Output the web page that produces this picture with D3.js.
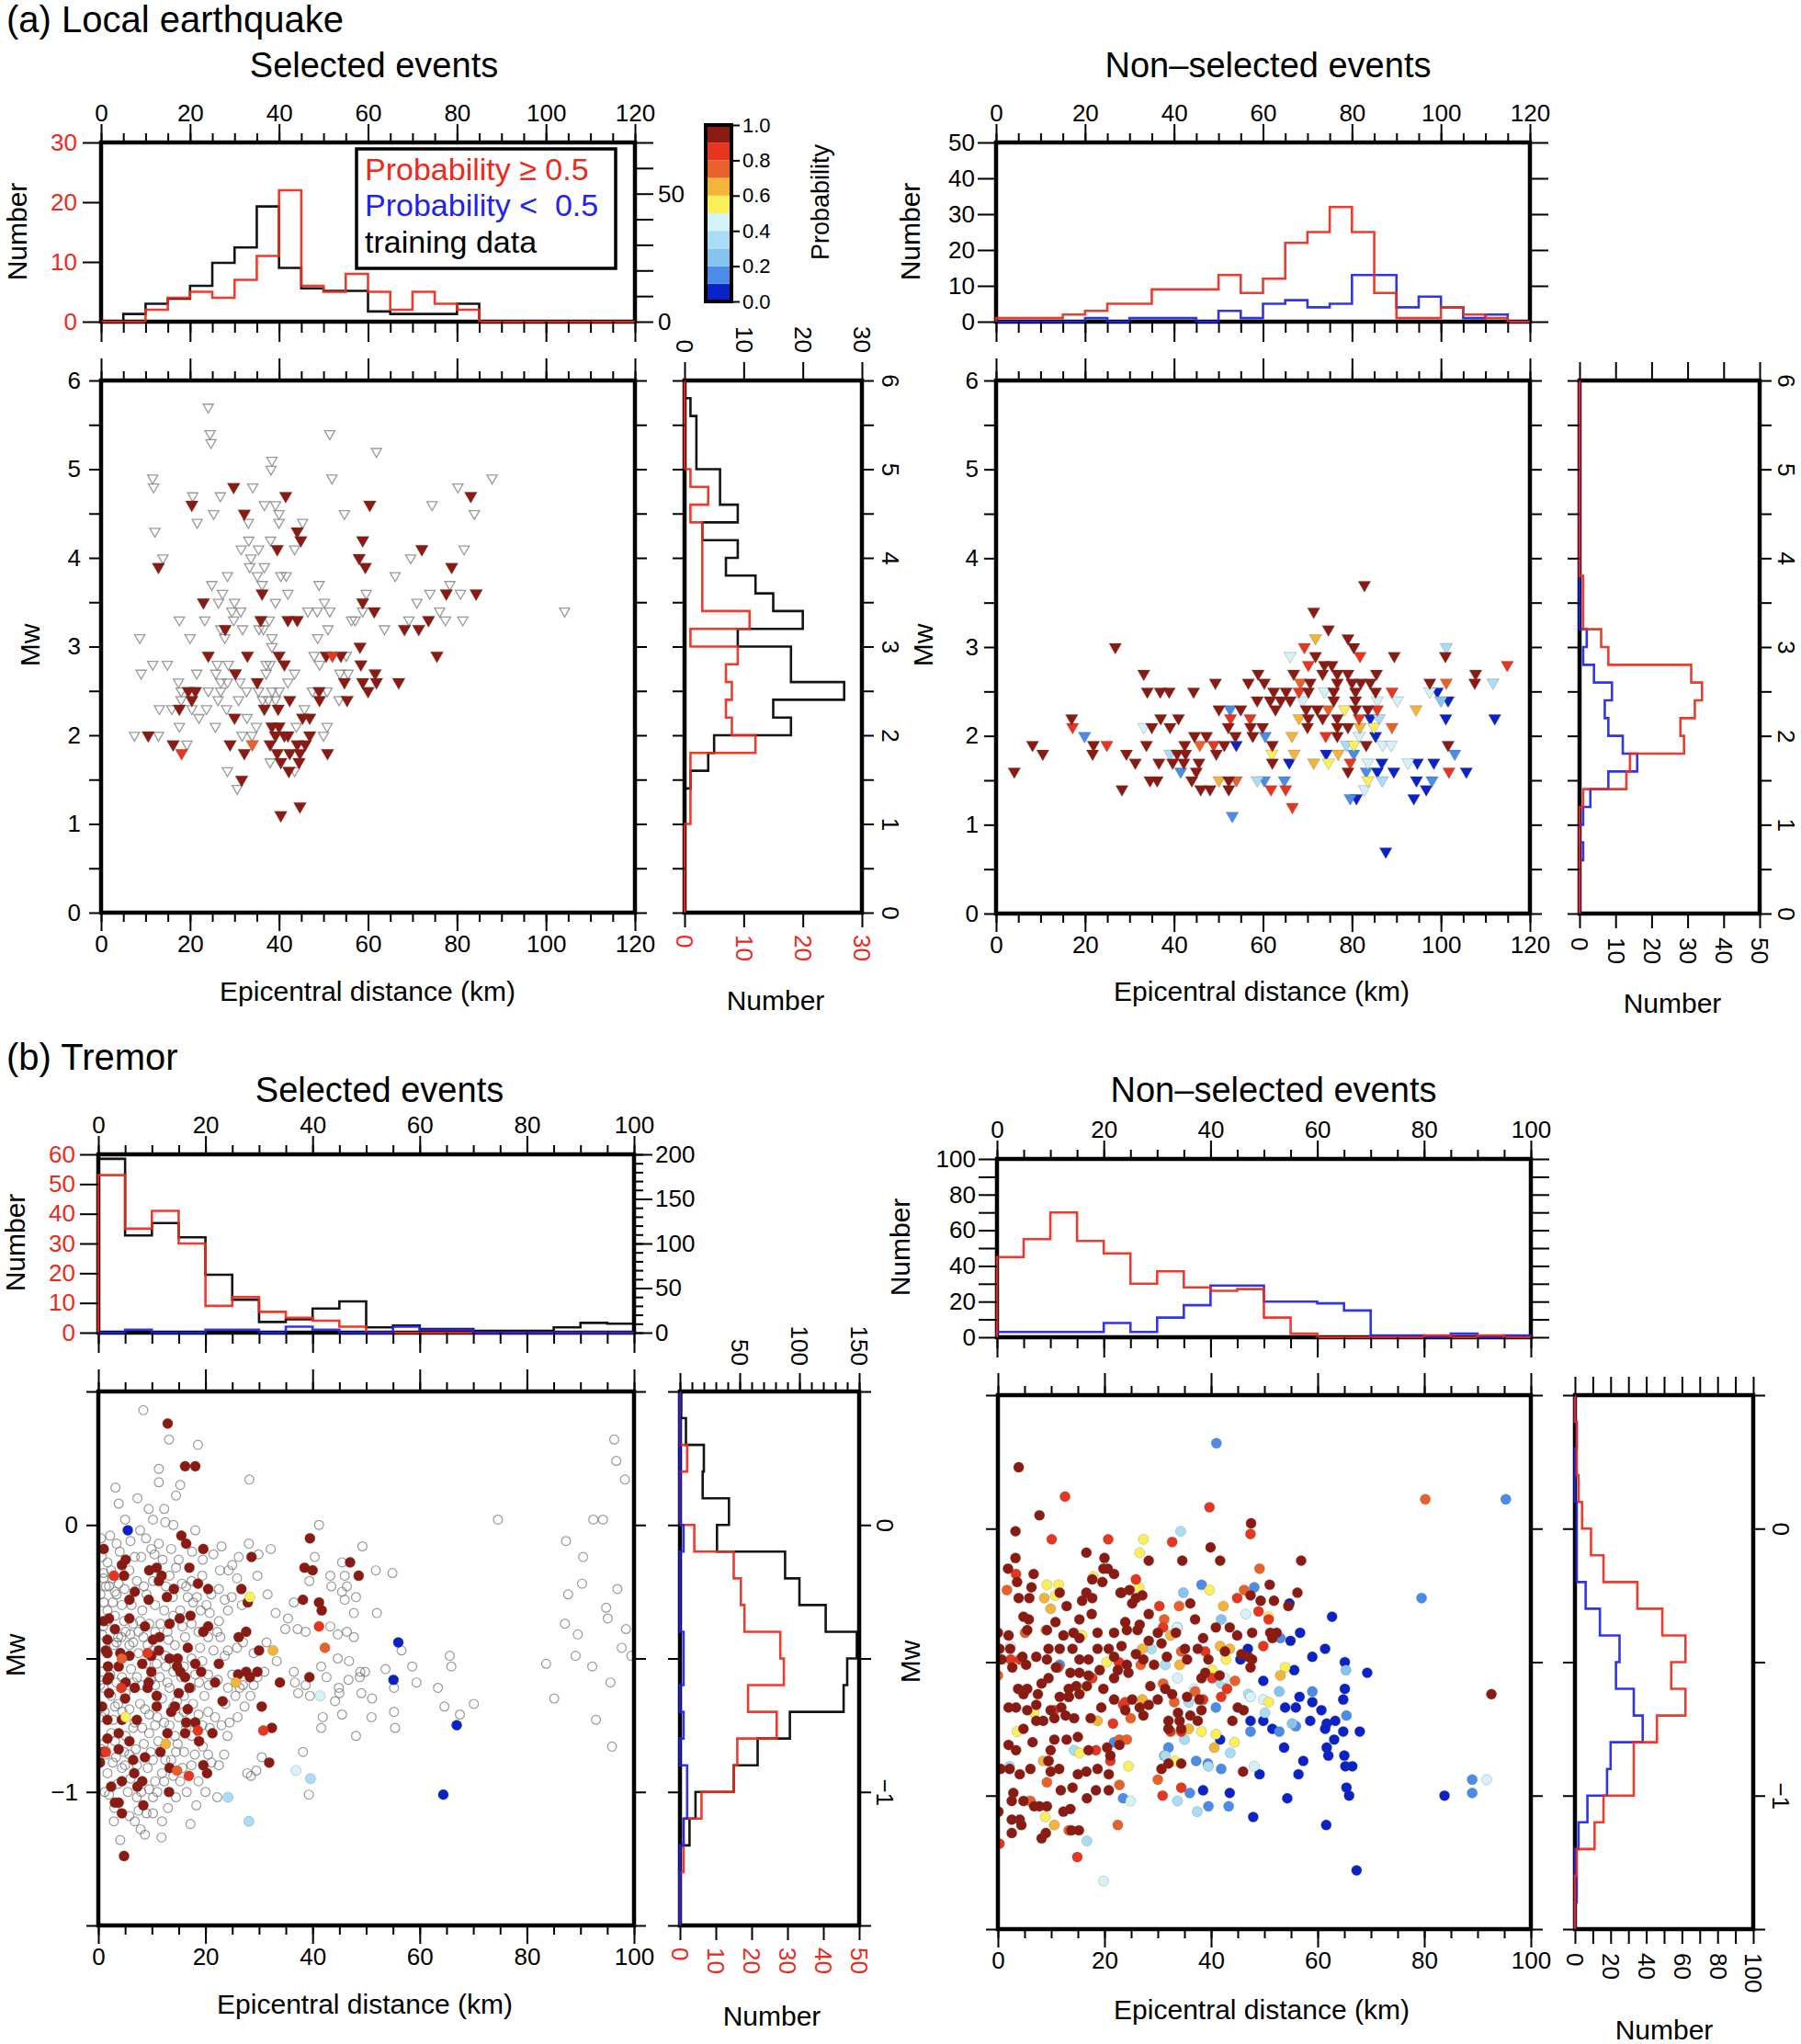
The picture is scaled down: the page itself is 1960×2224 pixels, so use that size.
<!DOCTYPE html>
<html><head><meta charset="utf-8">
<script src="https://cdn.jsdelivr.net/npm/d3@7"></script>
<style>
body{margin:0;background:#fff}
svg{display:block}
</style></head><body>
<svg id="c" width="1960" height="2224"></svg>
<script>
// ---------------- DATA ----------------
const distTicksA=[0,20,40,60,80,100,120];
const distTicksB=[0,20,40,60,80,100];
const mwLabelsA=[0,1,2,3,4,5,6];
const mwLabelsB=[-1,0];
const cbTicks=[0,0.2,0.4,0.6,0.8,1.0];
const probColors=['#0a22c6','#4a8ce8','#86c4f0','#aadcf6','#d4f2f8','#fbf05a','#f2b43a','#e8602a','#e6361f','#8b1a12'];

// (a) selected: 5 km bins 0-120, Mw 0.2 bins 0-6
const aSelTopRed=[0,0,2,4,5,4,7,11,22,6,5,8,5,2,5,3,2,0,0,0,0,0,0,0];
const aSelTopBlack=[0,3,7,9,14,23,29,45,21,13,12,12,4,3,3,3,7,0,0,0,0,0,0,0];
const aSelSideRed=[0,0,0,0,0,1,1,1,1,12,8,7,8,7,9,1,11,3,3,3,3,3,1,4,1,0,0,0,0,0];
const aSelSideBlack=[0,0,0,0,0,0,0,1,4,5,18,15,27,18,18,9,20,15,12,7,9,3,9,6,6,2,2,2,1,0];
// (a) non-selected
const aNonTopRed=[1,1,1,2,3,5,5,9,9,9,13,8,12,22,25,32,25,8,1,1,4,2,1,0];
const aNonTopBlue=[0,0,0,0,1,0,1,1,1,0,3,1,5,6,4,5,13,13,4,7,4,1,2,0];
const aNonSideRed=[0,0,0,0,0,0,1,13,14,29,28,32,34,31,8,6,1,1,1,0,0,0,0,0,0,0,0,0,0,0];
const aNonSideBlue=[0,0,0,1,0,1,3,8,16,12,8,7,9,4,1,2,0,0,0,0,0,0,0,0,0,0,0,0,0,0];
// (b) selected: 5 km bins 0-100, Mw 0.1 bins -1.5..0.5
const bSelTopRed=[53,35,41,30,9,12,7,5,4,2,0,0,0,0,0,0,0,0,0,0];
const bSelTopBlack=[195,109,123,107,65,37,12,15,27,35,6,8,4,4,2,2,2,6,11,10];
const bSelTopBlue=[0,1,0,0,1,1,0,2,1,0,0,2,1,1,0,0,0,0,0,0];
const bSelSideRed=[0,0,1,1,6,15,16,27,19,29,28,18,17,15,4,0,0,2,0,0];
const bSelSideBlack=[0,0,0,8,13,45,65,92,137,140,148,122,100,88,31,41,19,20,5,1];
const bSelSideBlue=[0,0,0,1,2,2,0,1,0,1,1,0,0,0,1,0,0,0,0,0];
// (b) non-selected
const bNonTopRed=[45,55,70,54,47,30,37,28,26,27,11,2,0,0,0,0,1,0,1,0];
const bNonTopBlue=[3,3,3,3,8,3,11,18,29,29,20,20,19,15,1,1,0,2,0,1];
const bNonSideRed=[0,0,1,11,16,33,33,46,62,54,62,49,35,16,9,4,2,1,1,0];
const bNonSideBlue=[0,1,0,2,7,18,20,38,33,23,25,14,6,1,1,1,0,0,1,0];

// scatter: [distance km, Mw] / [distance km, Mw, probability]
const aSelTraining=[[24.1,5.7],[24.5,5.4],[24.7,5.3],[51.4,5.4],[61.9,5.2],[38.4,5.1],[38.2,5.0],[11.6,4.9],[11.8,4.8],[51.9,4.9],[87.9,4.9],[34.1,4.8],[80.2,4.8],[26.8,4.7],[20.6,4.7],[36.7,4.6],[39.2,4.6],[74.4,4.6],[25.3,4.5],[40.0,4.5],[54.7,4.5],[83.9,4.5],[21.6,4.4],[33.1,4.4],[45.3,4.4],[40.0,4.4],[12.1,4.3],[33.2,4.2],[38.1,4.2],[31.5,4.1],[35.4,4.1],[43.5,4.1],[81.6,4.1],[13.9,4.0],[33.7,4.0],[69.6,4.0],[33.4,3.9],[36.7,3.9],[28.4,3.8],[35.1,3.8],[40.4,3.8],[41.6,3.8],[66.1,3.8],[49.0,3.7],[24.9,3.7],[36.2,3.7],[78.4,3.7],[27.3,3.6],[42.0,3.6],[59.6,3.6],[73.9,3.6],[80.8,3.6],[39.2,3.5],[26.4,3.5],[30.0,3.5],[50.2,3.5],[71.0,3.5],[29.4,3.4],[31.4,3.4],[46.5,3.4],[48.6,3.4],[51.4,3.4],[58.8,3.4],[76.1,3.4],[104.2,3.4],[17.6,3.3],[23.3,3.3],[29.8,3.3],[37.8,3.3],[56.3,3.3],[57.1,3.3],[69.2,3.3],[77.4,3.3],[81.3,3.3],[26.9,3.2],[31.8,3.2],[35.5,3.2],[36.5,3.2],[51.0,3.2],[63.7,3.2],[8.7,3.1],[20.0,3.1],[27.8,3.1],[38.4,3.1],[48.7,3.1],[38.4,3.0],[11.6,2.8],[14.9,2.8],[26.1,2.8],[28.6,2.8],[37.1,2.8],[38.0,2.8],[47.9,2.9],[49.1,2.8],[55.1,2.9],[9.0,2.7],[21.5,2.7],[25.8,2.7],[30.2,2.7],[37.1,2.7],[43.5,2.7],[53.7,2.7],[55.5,2.7],[17.4,2.6],[26.9,2.6],[28.4,2.6],[31.2,2.6],[42.0,2.6],[18.0,2.5],[24.1,2.5],[26.9,2.5],[32.7,2.5],[35.4,2.5],[38.4,2.5],[40.0,2.5],[47.5,2.5],[50.8,2.5],[18.0,2.4],[26.3,2.4],[30.9,2.4],[36.3,2.4],[37.6,2.4],[39.2,2.4],[53.5,2.4],[13.1,2.3],[15.9,2.3],[20.4,2.3],[23.7,2.3],[28.2,2.3],[45.7,2.3],[22.0,2.2],[32.8,2.2],[17.6,2.1],[25.7,2.1],[34.9,2.1],[43.9,2.1],[50.8,2.1],[7.5,2.0],[12.9,2.0],[31.7,2.0],[33.9,2.0],[50.0,2.0],[19.3,1.9],[38.0,1.7],[43.5,1.6],[28.4,1.6],[30.6,1.4]];
const aSelEvents=[[29.8,4.8,.95],[41.5,4.7,.95],[20.4,4.6,.95],[32.2,4.5,.95],[60.4,4.6,.95],[83.1,4.7,.95],[44.1,4.3,.95],[44.9,4.2,.95],[39.6,4.1,.95],[58.8,4.2,.95],[72.1,4.1,.95],[58.0,4.0,.95],[59.4,3.9,.95],[78.8,3.9,.95],[12.9,3.9,.95],[36.2,3.6,.95],[23.0,3.5,.95],[77.6,3.6,.95],[84.3,3.6,.95],[58.8,3.5,.95],[61.4,3.4,.95],[35.9,3.3,.95],[42.0,3.3,.95],[44.1,3.3,.95],[27.9,3.2,.95],[68.2,3.2,.95],[71.4,3.2,.95],[73.6,3.3,.95],[24.1,2.9,.95],[32.9,2.9,.95],[40.0,2.9,.95],[41.2,2.8,.95],[50.6,2.9,.95],[53.9,2.9,.95],[58.2,3.0,.95],[58.4,2.8,.95],[75.5,2.9,.95],[30.2,2.7,.95],[35.1,2.6,.95],[54.7,2.6,.95],[58.8,2.6,.95],[61.6,2.7,.95],[61.9,2.6,.95],[66.9,2.6,.95],[60.0,2.5,.95],[19.6,2.5,.95],[21.2,2.5,.95],[20.4,2.4,.95],[42.4,2.4,.95],[49.0,2.5,.95],[49.1,2.4,.95],[55.3,2.4,.95],[17.6,2.3,.95],[36.7,2.3,.95],[39.8,2.3,.95],[30.0,2.2,.95],[45.3,2.2,.95],[46.9,2.2,.95],[38.4,2.1,.95],[40.0,2.1,.95],[39.2,2.0,.95],[41.2,2.0,.95],[42.0,2.0,.95],[46.9,2.0,.95],[10.6,2.0,.95],[16.2,1.9,.95],[29.0,1.9,.95],[38.0,1.9,.95],[44.1,1.9,.95],[45.9,1.9,.95],[32.2,1.8,.95],[39.6,1.8,.95],[42.4,1.8,.95],[44.7,1.8,.95],[50.9,1.8,.95],[40.4,1.7,.95],[44.5,1.7,.95],[42.2,1.6,.95],[31.6,1.5,.95],[44.7,1.2,.95],[40.4,1.1,.95],[18.1,1.8,.85],[34.0,1.9,.75],[52.0,2.9,.85]];
const aNonEvents=[[82.8,3.7,.95],[71.4,3.4,.95],[74.7,3.2,.95],[71.8,3.1,.65],[79.1,3.1,.95],[80.4,3.0,.95],[69.3,3.0,.85],[26.8,3.0,.95],[101.2,3.0,.35],[66.1,2.9,.45],[71.8,2.9,.95],[81.8,2.9,.85],[89.5,2.9,.95],[101.0,2.9,.95],[114.9,2.8,.85],[70.2,2.8,.85],[73.8,2.8,.95],[75.5,2.8,.95],[33.2,2.7,.95],[58.9,2.7,.95],[66.9,2.7,.95],[73.4,2.7,.95],[76.7,2.7,.95],[79.1,2.7,.95],[85.5,2.7,.95],[107.8,2.7,.95],[49.3,2.6,.95],[56.7,2.6,.95],[60.3,2.6,.95],[68.4,2.6,.75],[70.6,2.6,.95],[76.7,2.6,.95],[80.0,2.6,.95],[82.0,2.6,.95],[84.1,2.6,.95],[97.5,2.6,.95],[101.2,2.6,.75],[107.6,2.6,.95],[111.7,2.6,.35],[34.0,2.5,.95],[36.9,2.5,.95],[38.9,2.5,.95],[44.4,2.5,.95],[62.4,2.5,.95],[65.2,2.5,.95],[68.1,2.5,.85],[70.2,2.5,.95],[73.8,2.5,.45],[75.9,2.5,.95],[80.8,2.5,.95],[85.3,2.5,.95],[89.0,2.5,.85],[97.5,2.5,.45],[99.2,2.5,.05],[58.7,2.4,.95],[61.6,2.4,.95],[64.0,2.4,.95],[66.1,2.4,.95],[68.9,2.4,.45],[75.9,2.4,.95],[80.8,2.4,.95],[85.7,2.4,.45],[90.2,2.4,.45],[100.0,2.4,.25],[101.6,2.4,.05],[50.1,2.3,.95],[52.6,2.3,.15],[55.0,2.3,.95],[62.8,2.3,.95],[69.7,2.3,.95],[72.2,2.3,.95],[74.7,2.3,.75],[78.3,2.3,.55],[80.8,2.3,.95],[83.6,2.3,.95],[85.7,2.3,.85],[94.4,2.3,.65],[17.0,2.2,.95],[37.0,2.2,.95],[41.0,2.2,.95],[52.7,2.2,.85],[57.1,2.2,.85],[68.1,2.2,.65],[70.2,2.2,.95],[73.4,2.2,.95],[76.7,2.2,.95],[81.6,2.2,.85],[84.1,2.2,.05],[86.1,2.2,.35],[101.1,2.2,.05],[112.1,2.2,.05],[17.2,2.1,.85],[33.2,2.1,.45],[35.0,2.1,.95],[39.1,2.1,.95],[52.2,2.1,.95],[57.2,2.1,.95],[59.9,2.1,.95],[70.0,2.1,.95],[76.7,2.1,.95],[79.1,2.1,.95],[81.8,2.1,.65],[84.9,2.1,.55],[89.0,2.1,.75],[19.9,2.0,.15],[44.6,2.0,.95],[47.3,2.0,.95],[53.8,2.0,.95],[57.7,2.0,.95],[60.5,2.0,.15],[66.5,2.0,.65],[74.1,2.0,.85],[76.7,2.0,.95],[81.6,2.0,.45],[85.3,2.0,.05],[8.2,1.9,.95],[21.9,1.9,.95],[24.9,1.9,.85],[33.8,1.9,.95],[42.4,1.9,.95],[45.8,1.9,.75],[48.9,1.9,.85],[51.3,1.9,.95],[54.0,1.9,.05],[62.1,1.9,.95],[78.7,1.9,.35],[80.4,1.9,.55],[83.2,1.9,.95],[86.9,1.9,.45],[88.8,1.9,.45],[101.6,1.9,.95],[10.5,1.8,.95],[21.7,1.8,.95],[29.3,1.8,.95],[39.1,1.8,.35],[40.7,1.8,.95],[42.6,1.8,.95],[49.5,1.8,.95],[62.0,1.8,.55],[67.0,1.8,.65],[74.2,1.8,.05],[76.9,1.8,.65],[80.4,1.8,.15],[103.1,1.8,.15],[31.3,1.7,.95],[36.6,1.7,.95],[39.7,1.7,.95],[42.2,1.7,.95],[45.6,1.7,.95],[62.1,1.7,.95],[65.9,1.7,.05],[71.4,1.7,.65],[74.7,1.7,.55],[79.6,1.7,.85],[83.6,1.7,.45],[86.7,1.7,.05],[92.6,1.7,.45],[94.7,1.7,.05],[98.4,1.7,.05],[4.1,1.6,.95],[41.5,1.6,.15],[45.0,1.6,.95],[79.1,1.6,.95],[83.2,1.6,.15],[85.7,1.6,.05],[89.4,1.6,.05],[101.8,1.6,.85],[105.7,1.6,.05],[34.6,1.5,.95],[36.2,1.5,.95],[44.0,1.5,.95],[50.1,1.5,.65],[52.3,1.5,.95],[54.0,1.5,.75],[58.7,1.5,.35],[60.3,1.5,.15],[64.8,1.5,.15],[83.6,1.5,.55],[86.8,1.5,.35],[94.5,1.5,.05],[98.0,1.5,.15],[28.3,1.4,.95],[46.0,1.4,.95],[48.1,1.4,.95],[52.3,1.4,.95],[61.8,1.4,.85],[65.1,1.4,.85],[82.8,1.4,.45],[96.7,1.4,.05],[79.6,1.3,.15],[81.0,1.3,.05],[93.9,1.3,.05],[66.6,1.2,.85],[53.1,1.1,.15],[87.6,0.7,.05]];
const bSelTraining=[[8.4,0.43],[13.2,0.32],[18.6,0.30],[11.3,0.21],[11.3,0.16],[15.3,0.15],[14.5,0.11],[3.2,0.14],[3.8,0.08],[7.3,0.10],[9.4,0.06],[12.3,0.06],[28.2,0.17],[5.0,0.02],[10.2,0.02],[12.5,0.01],[14.0,0.0],[18.1,-0.02],[7.8,-0.02],[8.9,-0.05],[3.4,-0.07],[11.3,-0.07],[13.6,-0.09],[9.9,-0.09],[21.5,-0.11],[26.2,-0.12],[28.1,-0.07],[32.2,-0.09],[29.9,-0.11],[41.2,0.0],[49.3,-0.08],[40.4,-0.12],[14.5,-0.16],[5.8,-0.17],[22.7,-0.17],[24.3,-0.17],[25.9,-0.2],[29.7,-0.19],[22.5,-0.24],[24.9,-0.27],[31.6,-0.26],[36.5,-0.29],[39.4,-0.21],[43.3,-0.19],[45.5,-0.14],[46.0,-0.19],[51.8,-0.17],[54.9,-0.18],[43.5,-0.23],[45.5,-0.25],[46.4,-0.23],[48.1,-0.27],[46.0,-0.28],[47.7,-0.33],[52.0,-0.33],[33.1,-0.33],[35.4,-0.35],[37.2,-0.39],[34.9,-0.39],[38.7,-0.4],[43.3,-0.38],[44.7,-0.41],[46.4,-0.4],[47.7,-0.42],[31.4,-0.44],[33.3,-0.51],[44.7,-0.5],[46.8,-0.51],[48.9,-0.55],[49.8,-0.55],[48.8,-0.57],[46.7,-0.58],[42.6,-0.57],[41.6,-0.53],[36.5,-0.55],[36.7,-0.59],[38.7,-0.6],[37.3,-0.63],[39.5,-0.64],[44.9,-0.61],[45.0,-0.63],[49.1,-0.63],[51.1,-0.65],[53.6,-0.54],[56.6,-0.47],[55.2,-0.61],[58.6,-0.53],[59.4,-0.59],[63.4,-0.61],[65.6,-0.49],[65.9,-0.53],[64.6,-0.68],[67.5,-0.71],[70.1,-0.67],[55.2,-0.7],[55.4,-0.76],[51.0,-0.72],[45.5,-0.71],[44.2,-0.66],[41.9,-0.72],[41.6,-0.76],[48.1,-0.79],[38.2,-0.85],[39.3,-1.01],[30.5,-0.87],[28.5,-0.94],[29.5,-0.92],[27.8,-0.93],[22.2,-1.02],[18.3,-1.05],[17.2,-1.12],[11.9,-1.11],[11.8,-1.17],[8.7,-1.16],[7.9,-1.14],[6.8,-1.11],[4.1,-1.18],[2.9,-1.11],[14.5,-1.02],[10.2,-1.02],[12.3,-0.96],[9.5,-0.99],[14.5,-0.85],[15.3,-0.96],[13.6,-0.88],[20.5,-0.86],[21.1,-0.89],[22.5,-0.9],[24.1,-0.79],[24.5,-0.74],[23.7,-0.67],[24.2,-0.61],[25.6,-0.64],[26.4,-0.61],[27.3,-0.68],[29.0,-0.6],[29.7,-0.57],[28.4,-0.64],[22.3,-0.58],[20.5,-0.56],[21.5,-0.47],[22.8,-0.42],[24.2,-0.47],[25.9,-0.46],[22.5,-0.36],[20.8,-0.33],[24.2,-0.32],[17.7,-0.29],[19.1,-0.32],[16.7,-0.27],[15.3,-0.32],[12.3,-0.32],[10.6,-0.3],[8.2,-0.32],[4.4,-0.3],[3.1,-0.25],[2.7,-0.29],[1.0,-0.29],[1.4,-0.23],[3.8,-0.22],[1.0,-0.2],[1.7,-0.14],[0.7,-0.12],[6.8,-0.12],[7.2,-0.21],[8.5,-0.23],[12.6,-0.23],[13.3,-0.19],[16.4,-0.23],[17.4,-0.21],[19.4,-0.19],[21.1,-0.26],[12.9,-0.4],[7.5,-0.4],[5.1,-0.4],[0.7,-0.41],[3.4,-0.44],[6.5,-0.44],[9.2,-0.45],[14.3,-0.45],[17.4,-0.5],[12.6,-0.53],[7.2,-0.57],[0.7,-0.55],[3.4,-0.59],[12.9,-0.59],[18.8,-0.59],[19.8,-0.64],[11.9,-0.65],[7.8,-0.67],[3.1,-0.68],[0.7,-0.72],[5.8,-0.69],[9.5,-0.71],[12.3,-0.74],[15.0,-0.72],[20.5,-0.7],[20.8,-0.76],[17.4,-0.79],[14.3,-0.79],[9.5,-0.78],[6.5,-0.76],[2.4,-0.78],[1.0,-0.82],[4.8,-0.85],[8.5,-0.82],[11.2,-0.81],[10.2,-0.88],[16.0,-0.85],[17.4,-0.9],[11.9,-0.93],[4.4,-0.91],[1.7,-0.93],[7.2,-1.02],[5.5,-1.0],[2.0,-1.01],[74.6,0.02],[96.3,0.32],[96.7,0.24],[98.3,0.17],[92.4,0.02],[94.2,0.02],[87.3,-0.06],[90.5,-0.12],[87.7,-0.26],[90.3,-0.22],[96.9,-0.24],[94.8,-0.31],[95.1,-0.35],[87.1,-0.37],[98.5,-0.39],[89.5,-0.41],[97.7,-0.46],[89.1,-0.49],[83.6,-0.52],[92.2,-0.53],[99.5,-0.49],[95.6,-0.59],[85.1,-0.65],[92.9,-0.73],[95.9,-0.83],[1.0,-0.18],[2.4,-0.17],[2.0,-0.23],[3.4,-0.26],[1.7,-0.32],[3.1,-0.34],[4.8,-0.36],[6.5,-0.37],[7.8,-0.36],[9.5,-0.37],[10.6,-0.4],[11.6,-0.37],[14.0,-0.34],[15.7,-0.38],[17.4,-0.37],[18.7,-0.4],[20.5,-0.42],[22.2,-0.4],[3.7,-0.42],[5.8,-0.45],[7.5,-0.48],[8.9,-0.52],[10.9,-0.52],[12.6,-0.49],[14.0,-0.55],[16.0,-0.53],[18.1,-0.56],[19.4,-0.51],[1.0,-0.61],[2.4,-0.64],[3.7,-0.67],[5.1,-0.63],[6.5,-0.59],[8.2,-0.6],[10.6,-0.6],[13.3,-0.61],[14.7,-0.66],[16.0,-0.64],[17.7,-0.67],[18.7,-0.71],[19.4,-0.75],[16.4,-0.76],[13.3,-0.75],[10.6,-0.75],[8.2,-0.76],[5.1,-0.79],[3.1,-0.81],[1.4,-0.86],[2.7,-0.89],[5.8,-0.86],[7.2,-0.9],[9.2,-0.91],[10.6,-0.96],[14.0,-0.94],[15.7,-0.91],[18.7,-0.96],[7.5,-1.07],[5.8,-1.09],[10.2,-1.08],[1.7,-0.36],
[0.5,-0.05],[2.2,-0.04],[4.0,-0.1],[6.0,-0.06],[8.0,-0.12],[10.5,-0.11],[12.0,-0.13],[15.0,-0.13],[17.5,-0.1],[19.5,-0.13],[23.0,-0.08],[25.0,-0.15],[0.4,-0.26],[2.6,-0.2],[4.9,-0.24],[6.2,-0.3],[9.0,-0.26],[10.2,-0.21],[13.9,-0.27],[15.6,-0.22],[18.4,-0.27],[20.2,-0.3],[23.6,-0.28],[26.8,-0.3],[0.9,-0.38],[2.9,-0.45],[4.3,-0.42],[6.0,-0.41],[8.4,-0.42],[10.1,-0.47],[13.1,-0.43],[16.2,-0.42],[19.0,-0.46],[23.6,-0.49],[27.0,-0.44],[29.0,-0.48],[0.3,-0.6],[2.2,-0.56],[4.4,-0.57],[6.1,-0.54],[9.8,-0.58],[11.5,-0.57],[15.5,-0.57],[17.3,-0.61],[20.6,-0.6],[25.0,-0.56],[27.0,-0.6],[31.0,-0.55],[1.2,-0.7],[2.8,-0.73],[4.5,-0.7],[6.8,-0.74],[8.7,-0.69],[11.0,-0.72],[14.0,-0.68],[16.0,-0.7],[21.8,-0.72],[23.0,-0.75],[26.0,-0.72],[0.6,-0.84],[3.3,-0.87],[5.0,-0.9],[7.0,-0.84],[9.8,-0.85],[12.5,-0.88],[14.8,-0.82],[18.0,-0.86],[19.5,-0.83],[23.5,-0.86],[1.2,-1.0],[3.6,-0.97],[6.0,-0.95],[8.0,-1.0],[11.0,-1.0],[13.0,-1.06],[16.5,-1.0],[20.0,-1.0],[9.0,-1.08],[3.0,-1.06]];
const bSelEvents=[[12.95,0.38,.95],[16.2,0.22,.95],[18.1,0.22,.95],[1.0,-0.09,.95],[15.5,-0.04,.95],[16.4,-0.07,.95],[19.6,-0.09,.95],[39.5,-0.05,.95],[28.6,-0.12,.95],[47.0,-0.14,.95],[48.6,-0.19,.95],[38.5,-0.16,.95],[40.0,-0.17,.95],[5.1,-0.13,.95],[4.4,-0.15,.95],[4.8,-0.19,.95],[9.5,-0.17,.95],[10.9,-0.16,.95],[11.8,-0.19,.95],[11.3,-0.21,.95],[17.0,-0.16,.95],[18.6,-0.22,.95],[20.5,-0.24,.95],[26.7,-0.24,.95],[27.9,-0.29,.95],[38.2,-0.28,.95],[41.2,-0.29,.95],[41.7,-0.32,.95],[6.8,-0.25,.95],[5.8,-0.28,.95],[9.4,-0.28,.95],[12.8,-0.27,.95],[14.1,-0.24,.95],[1.0,-0.36,.95],[2.0,-0.35,.95],[5.8,-0.35,.95],[13.3,-0.37,.95],[15.2,-0.35,.95],[17.2,-0.34,.95],[20.5,-0.38,.95],[3.1,-0.39,.95],[8.7,-0.38,.95],[10.2,-0.43,.95],[11.4,-0.42,.95],[1.7,-0.43,.95],[19.6,-0.4,.95],[26.2,-0.42,.95],[27.6,-0.4,.95],[30.0,-0.47,.95],[4.1,-0.48,.95],[1.7,-0.48,.95],[11.3,-0.47,.95],[9.9,-0.49,.95],[13.3,-0.5,.95],[14.8,-0.5,.95],[16.7,-0.46,.95],[5.8,-0.49,.95],[8.2,-0.52,.95],[1.8,-0.53,.95],[3.8,-0.53,.95],[14.7,-0.53,.95],[18.1,-0.52,.95],[22.5,-0.52,.95],[15.3,-0.55,.95],[19.2,-0.55,.95],[16.2,-0.57,.95],[21.8,-0.59,.95],[2.0,-0.57,.95],[5.1,-0.59,.95],[9.9,-0.55,.95],[9.4,-0.59,.95],[26.1,-0.56,.95],[27.6,-0.55,.95],[28.3,-0.57,.95],[29.7,-0.55,.95],[33.9,-0.59,.95],[39.4,-0.57,.95],[17.0,-0.61,.95],[15.0,-0.63,.95],[6.8,-0.61,.95],[2.0,-0.63,.95],[5.0,-0.65,.95],[9.2,-0.61,.95],[10.9,-0.64,.95],[23.2,-0.66,.95],[16.7,-0.69,.95],[14.3,-0.68,.95],[10.9,-0.68,.95],[30.5,-0.68,.95],[1.7,-0.73,.95],[4.4,-0.73,.95],[7.2,-0.73,.95],[13.6,-0.7,.95],[16.4,-0.74,.95],[18.1,-0.74,.95],[3.8,-0.78,.95],[12.9,-0.78,.95],[16.2,-0.78,.95],[21.3,-0.78,.95],[32.4,-0.76,.95],[18.8,-0.81,.95],[5.8,-0.81,.95],[1.7,-0.8,.95],[11.6,-0.85,.95],[3.8,-0.84,.95],[8.7,-0.87,.95],[0.3,-0.89,.95],[6.5,-0.88,.95],[13.3,-0.91,.95],[19.6,-0.9,.95],[20.3,-0.93,.95],[31.9,-0.89,.95],[2.4,-0.98,.95],[4.4,-0.96,.95],[7.3,-0.98,.95],[8.2,-0.96,.95],[6.7,-0.93,.95],[13.2,-1.0,.95],[3.1,-1.04,.95],[4.4,-1.08,.95],[3.8,-1.04,.95],[8.4,-1.05,.95],[4.8,-1.24,.95],[1.4,-0.47,.95],[1.7,-0.58,.95],[0.7,-0.68,.95],[1.0,-0.85,.95],[5.5,-0.02,.05],[2.9,-0.19,.85],[41.2,-0.38,.85],[42.3,-0.46,.75],[28.3,-0.27,.55],[32.6,-0.47,.65],[25.7,-0.59,.65],[4.4,-0.5,.75],[4.3,-0.61,.85],[5.1,-0.72,.55],[12.6,-0.82,.65],[1.4,-0.85,.85],[18.6,-0.77,.85],[30.8,-0.77,.85],[14.7,-0.92,.75],[16.9,-0.94,.85],[41.4,-0.64,.45],[36.9,-0.92,.45],[39.6,-0.95,.35],[24.2,-1.02,.35],[28.1,-1.11,.35],[56.0,-0.44,.05],[55.1,-0.58,.05],[66.9,-0.75,.05],[64.4,-1.01,.05],[9.2,-0.48,.85]];
const bNonEvents=[[3.9,0.23,.95],[7.8,0.05,.95],[3.3,-0.01,.95],[3.3,-0.11,.95],[1.9,-0.15,.95],[3.6,-0.2,.95],[6.7,-0.17,.95],[6.3,-0.22,.95],[3.9,-0.26,.95],[5.9,-0.26,.95],[4.8,-0.33,.95],[5.8,-0.34,.95],[5.5,-0.38,.95],[2.0,-0.4,.95],[0.0,-0.39,.95],[0.3,-0.45,.95],[2.3,-0.45,.95],[4.6,-0.48,.95],[7.2,-0.48,.95],[5.3,-0.51,.95],[2.7,-0.52,.95],[0.7,-0.49,.95],[3.8,-0.6,.95],[5.5,-0.6,.95],[8.2,-0.58,.95],[9.5,-0.56,.95],[7.5,-0.62,.95],[4.8,-0.62,.95],[2.0,-0.67,.95],[3.4,-0.67,.95],[5.5,-0.68,.95],[7.2,-0.66,.95],[9.9,-0.68,.95],[8.5,-0.72,.95],[7.2,-0.72,.95],[4.8,-0.75,.95],[2.0,-0.81,.95],[3.4,-0.83,.95],[6.5,-0.8,.95],[9.9,-0.83,.95],[0.5,-0.9,.95],[2.2,-0.9,.95],[4.1,-0.92,.95],[6.1,-0.9,.95],[2.9,-0.99,.95],[2.6,-1.02,.95],[4.8,-1.02,.95],[4.1,-1.09,.95],[2.6,-1.09,.95],[4.4,-1.11,.95],[2.6,-1.14,.95],[8.2,-1.16,.95],[9.0,-1.14,.95],[6.8,-1.04,.95],[7.8,-1.04,.95],[9.2,-1.04,.95],[0.1,-1.06,.95],[11.8,-0.98,.95],[12.3,-1.06,.95],[13.6,-1.05,.95],[13.8,-1.13,.95],[15.2,-1.13,.95],[16.7,-1.01,.95],[16.6,-0.91,.95],[15.0,-0.92,.95],[14.0,-0.97,.95],[11.5,-0.9,.95],[9.9,-0.91,.95],[9.5,-0.87,.95],[10.6,-0.79,.95],[10.6,-0.71,.95],[12.7,-0.7,.95],[14.3,-0.71,.95],[11.9,-0.67,.95],[13.3,-0.6,.95],[14.7,-0.59,.95],[11.6,-0.63,.95],[13.3,-0.63,.95],[15.3,-0.62,.95],[13.6,-0.54,.95],[15.3,-0.54,.95],[17.0,-0.49,.95],[15.3,-0.49,.95],[14.0,-0.45,.95],[15.3,-0.41,.95],[14.2,-0.39,.95],[12.3,-0.4,.95],[11.6,-0.45,.95],[9.5,-0.45,.95],[9.2,-0.38,.95],[10.8,-0.35,.95],[15.3,-0.34,.95],[17.6,-0.32,.95],[16.6,-0.24,.95],[17.7,-0.26,.95],[15.8,-0.27,.95],[16.6,-0.09,.95],[20.0,-0.11,.95],[20.6,-0.15,.95],[21.8,-0.17,.95],[19.6,-0.2,.95],[23.0,-0.24,.95],[24.7,-0.23,.95],[25.2,-0.28,.95],[27.1,-0.25,.95],[23.9,-0.35,.95],[28.3,-0.12,.95],[34.6,-0.12,.95],[39.9,-0.07,.95],[41.7,-0.12,.95],[47.5,0.02,.95],[56.9,-0.12,.95],[56.2,-0.24,.95],[51.0,-0.21,.95],[49.3,-0.27,.95],[47.4,-0.25,.95],[51.8,-0.27,.95],[54.5,-0.29,.95],[36.1,-0.28,.95],[37.0,-0.34,.95],[28.3,-0.32,.95],[26.6,-0.36,.95],[26.2,-0.38,.95],[28.3,-0.42,.95],[30.7,-0.43,.95],[30.0,-0.39,.95],[33.4,-0.39,.95],[21.8,-0.39,.95],[18.7,-0.39,.95],[20.8,-0.45,.95],[21.8,-0.48,.95],[18.7,-0.45,.95],[17.0,-0.55,.95],[19.1,-0.53,.95],[22.5,-0.53,.95],[24.2,-0.51,.95],[21.8,-0.56,.95],[24.5,-0.54,.95],[31.7,-0.48,.95],[35.1,-0.45,.95],[38.5,-0.41,.95],[40.9,-0.37,.95],[43.5,-0.37,.95],[44.9,-0.4,.95],[47.7,-0.39,.95],[51.1,-0.39,.95],[52.3,-0.39,.95],[51.5,-0.41,.95],[47.0,-0.48,.95],[45.7,-0.47,.95],[47.7,-0.49,.95],[47.4,-0.52,.95],[39.5,-0.49,.95],[38.9,-0.54,.95],[41.6,-0.55,.95],[38.2,-0.56,.95],[28.6,-0.59,.95],[31.4,-0.6,.95],[32.7,-0.62,.95],[25.2,-0.64,.95],[23.9,-0.68,.95],[26.6,-0.67,.95],[28.3,-0.66,.95],[27.3,-0.7,.95],[30.0,-0.64,.95],[37.8,-0.64,.95],[38.2,-0.68,.95],[36.1,-0.7,.95],[32.0,-0.72,.95],[34.1,-0.72,.95],[32.0,-0.75,.95],[34.4,-0.75,.95],[44.0,-0.72,.95],[46.1,-0.68,.95],[45.0,-0.67,.95],[32.0,-0.88,.95],[34.4,-0.88,.95],[30.7,-0.9,.95],[46.0,-0.91,.95],[92.6,-0.62,.95],[20.5,-0.82,.95],[22.8,-0.81,.95],[21.1,-0.85,.95],[18.7,-0.9,.95],[20.8,-0.92,.95],[18.4,-0.98,.95],[20.8,-0.98,.95],[12.9,-0.79,.95],[15.0,-0.78,.95],[17.0,-0.83,.95],[17.4,-0.71,.95],[19.4,-0.67,.95],[21.8,-0.64,.95],[19.8,-0.6,.95],[16.7,-0.59,.95],[10.9,-0.52,.95],[9.2,-0.49,.95],[12.9,-0.29,.95],[11.6,-0.24,.95],[17.7,-0.19,.95],[19.8,-0.15,.95],[25.9,-0.26,.95],[23.2,-0.24,.95],[24.2,-0.38,.95],[25.9,-0.47,.95],[23.2,-0.44,.95],[27.3,-0.49,.95],[29.3,-0.51,.95],[35.5,-0.49,.95],[37.5,-0.45,.95],[42.6,-0.46,.95],[35.5,-0.63,.95],[37.5,-0.72,.95],[33.8,-0.69,.95],
[12.6,0.12,.85],[10.1,-0.04,.85],[20.7,-0.04,.85],[32.7,-0.05,.85],[39.7,0.08,.85],[47.4,-0.02,.85],[3.4,-0.17,.85],[25.9,-0.19,.85],[30.3,-0.29,.85],[44.9,-0.26,.85],[48.9,-0.31,.85],[50.8,-0.34,.85],[31.0,-0.37,.85],[38.9,-0.46,.85],[40.2,-0.56,.85],[2.4,-0.49,.85],[11.3,-0.52,.85],[22.7,-0.5,.85],[17.7,-0.56,.85],[10.6,-0.68,.85],[13.3,-0.63,.85],[23.5,-0.66,.85],[21.6,-0.73,.85],[38.5,-0.64,.85],[41.9,-0.63,.85],[32.4,-0.76,.85],[34.4,-0.76,.85],[18.4,-0.83,.85],[21.1,-0.87,.85],[9.5,-0.87,.85],[34.4,-0.97,.85],[30.9,-1.0,.85],[0.3,-1.18,.85],[14.9,-1.23,.85],[23.9,-0.65,.85],[43.0,-0.6,.85],[49.8,-0.44,.85],[4.1,-0.49,.85],
[1.7,-0.23,.75],[0.0,-0.55,.75],[5.1,-0.39,.75],[49.1,-0.15,.75],[46.2,-0.23,.75],[34.0,-0.29,.75],[31.2,-0.34,.75],[34.4,-0.46,.75],[26.8,-0.51,.75],[31.0,-0.58,.75],[37.0,-0.61,.75],[33.1,-0.65,.75],[24.9,-0.71,.75],[22.8,-0.79,.75],[24.2,-0.79,.75],[9.2,-0.95,.75],[6.1,-1.02,.75],[13.3,-1.13,.75],[22.5,-1.11,.75],[22.8,-0.96,.75],[44.5,-0.57,.75],[80.2,0.11,.75],[30.0,-0.94,.75],
[8.7,-0.26,.65],[9.9,-0.3,.65],[9.0,-0.38,.65],[27.1,-0.45,.65],[32.4,-0.4,.65],[41.7,-0.44,.65],[43.5,-0.45,.65],[53.0,-0.55,.65],[27.1,-0.64,.65],[34.1,-0.51,.65],[18.7,-0.72,.65],[35.8,-0.75,.65],[40.6,-0.82,.65],[8.5,-0.87,.65],[10.6,-1.11,.65],[42.3,-0.29,.65],
[27.3,-0.04,.55],[26.6,-0.09,.55],[9.2,-0.21,.55],[11.4,-0.21,.55],[10.8,-0.25,.55],[17.9,-0.18,.55],[26.5,-0.22,.55],[39.7,-0.23,.55],[15.8,-0.4,.55],[20.4,-0.5,.55],[40.2,-0.53,.55],[42.8,-0.49,.55],[53.9,-0.52,.55],[50.8,-0.65,.55],[15.8,-0.6,.55],[3.6,-0.76,.55],[6.8,-0.69,.55],[15.3,-0.84,.55],[24.5,-0.89,.55],[33.2,-0.87,.55],[38.2,-0.76,.55],[40.9,-0.77,.55],[44.4,-0.8,.55],[8.9,-1.08,.55],[50.8,-0.33,.55],
[46.5,-0.32,.45],[2.4,-0.44,.45],[33.7,-0.56,.45],[42.6,-0.56,.45],[47.4,-0.63,.45],[49.8,-0.64,.45],[33.6,-0.37,.45],[48.1,-0.89,.45],[91.7,-0.94,.45],[19.8,-1.32,.45],[24.9,-1.02,.45],[5.5,-1.02,.45],[36.8,-0.6,.45],
[34.3,-0.01,.35],[33.7,-0.37,.35],[28.8,-0.45,.35],[31.4,-0.51,.35],[41.9,-0.58,.35],[47.0,-0.62,.35],[35.8,-0.65,.35],[50.1,-0.69,.35],[43.6,-0.84,.35],[39.5,-0.89,.35],[37.4,-1.06,.35],[33.7,-1.02,.35],[16.7,-1.17,.35],[31.4,-0.85,.35],[35.0,-0.79,.35],[2.2,-0.89,.35],[14.3,-0.83,.35],
[41.0,0.32,.15],[95.3,0.11,.15],[79.5,-0.26,.15],[34.8,-0.24,.25],[38.2,-0.21,.15],[48.1,-0.22,.15],[41.9,-0.34,.25],[53.0,-0.41,.15],[59.0,-0.61,.15],[65.4,-0.7,.15],[52.8,-0.76,.15],[55.2,-0.73,.25],[47.4,-0.76,.15],[40.9,-0.67,.15],[32.0,-0.82,.15],[31.2,-0.85,.25],[37.2,-0.87,.15],[39.4,-0.88,.15],[41.9,-0.9,.15],[36.0,-0.99,.15],[39.5,-1.04,.15],[43.3,-1.04,.15],[23.5,-1.01,.15],[89.0,-0.94,.15],[89.0,-0.99,.15],[21.8,-0.8,.15],[11.6,-0.51,.15],[52.8,-0.61,.25],[55.9,-0.74,.15],[65.3,-0.53,.25],
[62.7,-0.33,.05],[54.7,-0.28,.05],[54.9,-0.42,.05],[56.7,-0.39,.05],[59.0,-0.48,.05],[61.4,-0.45,.05],[65.1,-0.5,.05],[69.3,-0.54,.05],[49.8,-0.57,.05],[55.6,-0.53,.05],[56.6,-0.63,.05],[59.0,-0.65,.05],[65.1,-0.6,.05],[64.8,-0.64,.05],[53.9,-0.67,.05],[55.9,-0.67,.05],[60.7,-0.68,.05],[61.7,-0.73,.05],[63.3,-0.72,.05],[61.4,-0.75,.05],[64.8,-0.76,.05],[67.9,-0.76,.05],[49.8,-0.72,.05],[51.5,-0.75,.05],[47.4,-0.72,.05],[58.6,-0.72,.05],[61.7,-0.82,.05],[63.1,-0.79,.05],[62.0,-0.85,.05],[53.7,-0.82,.05],[57.3,-0.87,.05],[56.4,-0.92,.05],[65.0,-0.85,.05],[65.2,-0.89,.05],[66.5,-0.89,.05],[65.4,-0.97,.05],[65.9,-1.0,.05],[49.1,-0.92,.05],[41.7,-0.79,.05],[38.5,-0.98,.05],[43.5,-0.99,.05],[54.3,-1.01,.05],[47.9,-1.08,.05],[61.6,-1.11,.05],[67.3,-1.28,.05],[83.8,-1.0,.05],[46.9,-0.45,.05],[45.5,-0.49,.05]];

// ---------------- DRAWING ----------------
const FONT='"Liberation Sans", Arial, Helvetica, sans-serif';
const RED='#ec2a1c', BLUE='#1e24ea', BLK='#000';
const svg=d3.select('#c');
const defs=svg.append('defs');
const probColor=d3.scaleThreshold().domain([.1,.2,.3,.4,.5,.6,.7,.8,.9]).range(probColors);

const P={
 aSel:{top:{x:110,y:155,w:581,h:195},sc:{x:110,y:414,w:581,h:579},side:{x:745,y:414,w:193,h:579}},
 aNon:{top:{x:1084,y:155,w:581,h:195},sc:{x:1084,y:414,w:581,h:580},side:{x:1719,y:414,w:196,h:580}},
 bSel:{top:{x:107,y:1256,w:583,h:194},sc:{x:107,y:1514,w:583,h:581},side:{x:740,y:1514,w:195,h:581}},
 bNon:{top:{x:1085,y:1261,w:581,h:194},sc:{x:1086,y:1518,w:580,h:581},side:{x:1714,y:1518,w:194,h:581}}
};

function frame(b,sw=4.5){svg.append('rect').attr('x',b.x).attr('y',b.y).attr('width',b.w).attr('height',b.h).attr('fill','none').attr('stroke','#000').attr('stroke-width',sw);}
function rng(a,b,s){const r=[];for(let v=a;v<=b+1e-9;v+=s)r.push(+v.toFixed(6));return r;}

function drawAxis(kind,scale,pos,o){
  const gen={bottom:d3.axisBottom,top:d3.axisTop,left:d3.axisLeft,right:d3.axisRight}[kind](scale);
  const lab=o.labels||[];
  const fmt=o.fmt||d3.format('d');
  const pad=o.pad??6;
  gen.tickValues(o.values).tickSize(o.size).tickPadding(pad).tickFormat(v=>lab.some(l=>Math.abs(l-v)<1e-9)?fmt(v):'');
  const tr=(kind==='bottom'||kind==='top')?`translate(0,${pos})`:`translate(${pos},0)`;
  const g=svg.append('g').attr('transform',tr).call(gen);
  g.attr('font-family',FONT).attr('font-size',o.fs||26);
  g.select('.domain').remove();
  g.selectAll('.tick line').attr('stroke','#000').attr('stroke-width',o.sw||2);
  const t=g.selectAll('.tick text').attr('fill',o.color||'#000');
  const off=o.size+pad;
  if(o.rot){
    if(kind==='bottom')t.attr('x',0).attr('y',0).attr('dy','0.35em').attr('text-anchor','start').attr('transform',`translate(0,${off}) rotate(90)`);
    if(kind==='top')t.attr('x',0).attr('y',0).attr('dy','0.35em').attr('text-anchor','end').attr('transform',`translate(0,${-off}) rotate(90)`);
    if(kind==='right')t.attr('x',0).attr('y',0).attr('dy','0').attr('text-anchor','middle').attr('transform',`translate(${off},0) rotate(90)`);
  }
  return g;
}
function histTop(xs,ys,counts,step,color,sw=2.6){
  const pts=[[0,0]];counts.forEach((c,i)=>{pts.push([i*step,c],[(i+1)*step,c]);});pts.push([counts.length*step,0]);
  svg.append('path').attr('d',d3.line().x(d=>xs(d[0])).y(d=>ys(d[1]))(pts)).attr('fill','none').attr('stroke',color).attr('stroke-width',sw).attr('stroke-opacity',0.92);
}
function histSide(xs,ys,counts,m0,step,color,sw=2.6){
  const pts=[[0,m0]];counts.forEach((c,i)=>{pts.push([c,m0+i*step],[c,m0+(i+1)*step]);});pts.push([0,m0+counts.length*step]);
  svg.append('path').attr('d',d3.line().x(d=>xs(d[0])).y(d=>ys(d[1]))(pts)).attr('fill','none').attr('stroke',color).attr('stroke-width',sw).attr('stroke-opacity',0.92);
}
function clip(id,b){defs.append('clipPath').attr('id',id).append('rect').attr('x',b.x).attr('y',b.y).attr('width',b.w).attr('height',b.h);return `url(#${id})`;}
function label(txt,x,y,o={}){
  return svg.append('text').attr('x',0).attr('y',0).attr('transform',`translate(${x},${y})${o.rot?` rotate(${o.rot})`:''}`)
    .attr('font-family',FONT).attr('font-size',o.fs||30).attr('fill',o.color||'#000')
    .attr('text-anchor',o.anchor||'middle').attr('dominant-baseline','central').text(txt);
}
function sideTicksMw(b,ys,vals,labs,labPad){
  drawAxis('left',ys,b.x,{values:vals,size:13});
  drawAxis('right',ys,b.x+b.w,{values:vals,size:13,labels:labs,rot:true,pad:labPad});
}
function distAxes(xs,b,maj){
  const minor=rng(0,xs.domain()[1],5);
  drawAxis('top',xs,b.y,{values:minor,size:10});
  drawAxis('top',xs,b.y,{values:maj,size:24});
  drawAxis('bottom',xs,b.y+b.h,{values:minor,size:10});
  drawAxis('bottom',xs,b.y+b.h,{values:maj,size:20,labels:maj,pad:5});
}
function topHistDistAxes(xs,b,maj){
  const minor=rng(0,xs.domain()[1],5);
  drawAxis('top',xs,b.y,{values:minor,size:10});
  drawAxis('top',xs,b.y,{values:maj,size:20,labels:maj,pad:3});
  drawAxis('bottom',xs,b.y+b.h,{values:minor,size:12});
  drawAxis('bottom',xs,b.y+b.h,{values:maj,size:22});
}
const tri=(s)=>d3.symbol().type(d3.symbolTriangle).size(s)();

// ======== (a) Local earthquake ========
label('(a) Local earthquake',7,21,{fs:40,anchor:'start'});
label('Selected events',407,71,{fs:38});
label('Non\u2013selected events',1380,71,{fs:38});

// --- (a) selected top histogram
{
  const b=P.aSel.top;
  const xs=d3.scaleLinear().domain([0,120]).range([b.x,b.x+b.w]);
  const yR=d3.scaleLinear().domain([0,30]).range([b.y+b.h,b.y]);
  const yK=d3.scaleLinear().domain([0,70]).range([b.y+b.h,b.y]);
  frame(b);
  histTop(xs,yK,aSelTopBlack,5,BLK);
  histTop(xs,yR,aSelTopRed,5,RED);
  topHistDistAxes(xs,b,distTicksA);
  drawAxis('left',yR,b.x,{values:[0,10,20,30],size:20,labels:[0,10,20,30],color:RED,pad:6});
  drawAxis('right',yK,b.x+b.w,{values:rng(0,70,10),size:20,labels:[0,50],pad:5});
  label('Number',18,252,{rot:-90});
  // legend
  svg.append('rect').attr('x',388).attr('y',162).attr('width',282).attr('height',130).attr('fill','#fff').attr('stroke','#000').attr('stroke-width',3.5);
  label('Probability \u2265 0.5',397,184,{fs:34,anchor:'start',color:RED});
  label('Probability <\u00a0\u00a00.5',397,223,{fs:34,anchor:'start',color:BLUE});
  label('training data',397,263,{fs:34,anchor:'start'});
}
// --- colorbar
{
  const b={x:768,y:136,w:28,h:192};
  const ys=d3.scaleLinear().domain([0,1]).range([b.y+b.h,b.y]);
  svg.append('g').selectAll('rect').data(probColors).join('rect')
    .attr('x',b.x).attr('width',b.w).attr('y',(d,i)=>ys((i+1)/10)).attr('height',(d,i)=>ys(i/10)-ys((i+1)/10)).attr('fill',d=>d);
  frame(b,4);
  drawAxis('right',ys,b.x+b.w,{values:cbTicks,size:9,labels:cbTicks,fmt:d3.format('.1f'),fs:22,pad:3});
  label('Probability',893,220,{rot:-90,fs:27});
}
// --- (a) selected scatter
{
  const b=P.aSel.sc;
  const xs=d3.scaleLinear().domain([0,120]).range([b.x,b.x+b.w]);
  const ys=d3.scaleLinear().domain([0,6]).range([b.y+b.h,b.y]);
  const g=svg.append('g').attr('clip-path',clip('ca1',b));
  g.selectAll('path.tr').data(aSelTraining).join('path').attr('d',tri(54))
    .attr('transform',d=>`translate(${xs(d[0])},${ys(d[1])}) rotate(180)`)
    .attr('fill','none').attr('stroke','#888').attr('stroke-width',1.3).attr('stroke-opacity',0.85);
  g.selectAll('path.ev').data(aSelEvents).join('path').attr('d',tri(84))
    .attr('transform',d=>`translate(${xs(d[0])},${ys(d[1])}) rotate(180)`)
    .attr('fill',d=>probColor(d[2])).attr('stroke','#555').attr('stroke-opacity',0.35).attr('stroke-width',0.8);
  frame(b);
  distAxes(xs,b,distTicksA);
  drawAxis('left',ys,b.x,{values:rng(0,6,0.5),size:13,labels:mwLabelsA,pad:9});
  drawAxis('right',ys,b.x+b.w,{values:rng(0,6,0.5),size:13});
  label('Mw',32,702,{rot:-90});
  label('Epicentral distance (km)',400,1078);
}
// --- (a) selected side histogram
{
  const b=P.aSel.side;
  const xs=d3.scaleLinear().domain([0,30]).range([b.x,b.x+b.w]);
  const ys=d3.scaleLinear().domain([0,6]).range([b.y+b.h,b.y]);
  frame(b);
  histSide(xs,ys,aSelSideBlack,0,0.2,BLK);
  histSide(xs,ys,aSelSideRed,0,0.2,RED);
  drawAxis('top',xs,b.y,{values:[0,10,20,30],size:20,labels:[0,10,20,30],rot:true,pad:10});
  drawAxis('bottom',xs,b.y+b.h,{values:[0,10,20,30],size:16,labels:[0,10,20,30],rot:true,pad:8,color:RED});
  sideTicksMw(b,ys,rng(0,6,0.5),mwLabelsA,9);
  label('Number',844,1088);
}
// --- (a) non-selected top histogram
{
  const b=P.aNon.top;
  const xs=d3.scaleLinear().domain([0,120]).range([b.x,b.x+b.w]);
  const ys=d3.scaleLinear().domain([0,50]).range([b.y+b.h,b.y]);
  frame(b);
  histTop(xs,ys,aNonTopBlue,5,BLUE);
  histTop(xs,ys,aNonTopRed,5,RED);
  topHistDistAxes(xs,b,distTicksA);
  drawAxis('left',ys,b.x,{values:rng(0,50,10),size:20,labels:rng(0,50,10),pad:3});
  drawAxis('right',ys,b.x+b.w,{values:rng(0,50,10),size:20});
  label('Number',990,252,{rot:-90});
}
// --- (a) non-selected scatter
{
  const b=P.aNon.sc;
  const xs=d3.scaleLinear().domain([0,120]).range([b.x,b.x+b.w]);
  const ys=d3.scaleLinear().domain([0,6]).range([b.y+b.h,b.y]);
  const g=svg.append('g').attr('clip-path',clip('ca2',b));
  const ev=aNonEvents.slice().sort((a,c)=>a[2]-c[2]);
  g.selectAll('path').data(ev).join('path').attr('d',tri(80))
    .attr('transform',d=>`translate(${xs(d[0])},${ys(d[1])}) rotate(180)`)
    .attr('fill',d=>probColor(d[2])).attr('stroke','#555').attr('stroke-opacity',0.35).attr('stroke-width',0.8);
  frame(b);
  distAxes(xs,b,distTicksA);
  drawAxis('left',ys,b.x,{values:rng(0,6,0.5),size:13,labels:mwLabelsA,pad:6});
  drawAxis('right',ys,b.x+b.w,{values:rng(0,6,0.5),size:13});
  label('Mw',1004,702,{rot:-90});
  label('Epicentral distance (km)',1373,1078);
}
// --- (a) non-selected side histogram
{
  const b=P.aNon.side;
  const xs=d3.scaleLinear().domain([0,50]).range([b.x,b.x+b.w]);
  const ys=d3.scaleLinear().domain([0,6]).range([b.y+b.h,b.y]);
  frame(b);
  histSide(xs,ys,aNonSideBlue,0,0.2,BLUE);
  histSide(xs,ys,aNonSideRed,0,0.2,RED);
  drawAxis('top',xs,b.y,{values:rng(0,50,10),size:20});
  drawAxis('bottom',xs,b.y+b.h,{values:rng(0,50,10),size:16,labels:rng(0,50,10),rot:true,pad:10});
  sideTicksMw(b,ys,rng(0,6,0.5),mwLabelsA,7);
  label('Number',1820,1091);
}

// ======== (b) Tremor ========
label('(b) Tremor',7,1150,{fs:40,anchor:'start'});
label('Selected events',413,1186,{fs:38});
label('Non\u2013selected events',1386,1186,{fs:38});

// --- (b) selected top histogram
{
  const b=P.bSel.top;
  const xs=d3.scaleLinear().domain([0,100]).range([b.x,b.x+b.w]);
  const yR=d3.scaleLinear().domain([0,60]).range([b.y+b.h,b.y]);
  const yK=d3.scaleLinear().domain([0,200]).range([b.y+b.h,b.y]);
  frame(b);
  histTop(xs,yK,bSelTopBlack,5,BLK);
  histTop(xs,yR,bSelTopRed,5,RED);
  histTop(xs,yR,bSelTopBlue,5,BLUE);
  topHistDistAxes(xs,b,distTicksB);
  drawAxis('left',yR,b.x,{values:rng(0,60,10),size:20,labels:rng(0,60,10),color:RED,pad:5});
  drawAxis('right',yK,b.x+b.w,{values:rng(0,200,10),size:10});
  drawAxis('right',yK,b.x+b.w,{values:rng(0,200,50),size:20,labels:rng(0,200,50),pad:3});
  label('Number',16,1352,{rot:-90});
}
// --- (b) selected scatter
{
  const b=P.bSel.sc;
  const xs=d3.scaleLinear().domain([0,100]).range([b.x,b.x+b.w]);
  const ys=d3.scaleLinear().domain([-1.5,0.5]).range([b.y+b.h,b.y]);
  const g=svg.append('g').attr('clip-path',clip('cb1',b));
  g.selectAll('circle.tr').data(bSelTraining).join('circle').attr('cx',d=>xs(d[0])).attr('cy',d=>ys(d[1])).attr('r',4.9)
    .attr('fill','none').attr('stroke','#777').attr('stroke-width',1.2).attr('stroke-opacity',0.75);
  const ev=bSelEvents.slice().sort((a,c)=>c[2]-a[2]);
  g.selectAll('circle.ev').data(ev).join('circle').attr('cx',d=>xs(d[0])).attr('cy',d=>ys(d[1])).attr('r',5.6)
    .attr('fill',d=>probColor(d[2])).attr('stroke','#555').attr('stroke-opacity',0.3).attr('stroke-width',0.8);
  frame(b);
  distAxes(xs,b,distTicksB);
  drawAxis('left',ys,b.x,{values:[-1.5,-1,-0.5,0,0.5],size:13,labels:mwLabelsB,pad:9});
  drawAxis('right',ys,b.x+b.w,{values:[-1.5,-1,-0.5,0,0.5],size:13});
  label('Mw',16,1801,{rot:-90});
  label('Epicentral distance (km)',397,2180);
}
// --- (b) selected side histogram
{
  const b=P.bSel.side;
  const xR=d3.scaleLinear().domain([0,50]).range([b.x,b.x+b.w]);
  const xK=d3.scaleLinear().domain([0,150]).range([b.x,b.x+b.w]);
  const ys=d3.scaleLinear().domain([-1.5,0.5]).range([b.y+b.h,b.y]);
  frame(b);
  histSide(xK,ys,bSelSideBlack,-1.5,0.1,BLK);
  histSide(xR,ys,bSelSideRed,-1.5,0.1,RED);
  histSide(xR,ys,bSelSideBlue,-1.5,0.1,BLUE);
  drawAxis('top',xK,b.y,{values:rng(0,150,10),size:10});
  drawAxis('top',xK,b.y,{values:[0,50,100,150],size:20,labels:[50,100,150],rot:true,pad:8});
  drawAxis('bottom',xR,b.y+b.h,{values:rng(0,50,10),size:16,labels:rng(0,50,10),rot:true,pad:8,color:RED});
  sideTicksMw(b,ys,[-1.5,-1,-0.5,0,0.5],mwLabelsB,6);
  label('Number',840,2193);
}
// --- (b) non-selected top histogram
{
  const b=P.bNon.top;
  const xs=d3.scaleLinear().domain([0,100]).range([b.x,b.x+b.w]);
  const ys=d3.scaleLinear().domain([0,100]).range([b.y+b.h,b.y]);
  frame(b);
  histTop(xs,ys,bNonTopBlue,5,BLUE);
  histTop(xs,ys,bNonTopRed,5,RED);
  topHistDistAxes(xs,b,distTicksB);
  drawAxis('left',ys,b.x,{values:rng(0,100,10),size:20,labels:rng(0,100,20),pad:3});
  drawAxis('right',ys,b.x+b.w,{values:rng(0,100,10),size:20});
  label('Number',979,1357,{rot:-90});
}
// --- (b) non-selected scatter
{
  const b=P.bNon.sc;
  const xs=d3.scaleLinear().domain([0,100]).range([b.x,b.x+b.w]);
  const ys=d3.scaleLinear().domain([-1.5,0.5]).range([b.y+b.h,b.y]);
  const g=svg.append('g').attr('clip-path',clip('cb2',b));
  const ev=bNonEvents.slice().sort((a,c)=>a[2]-c[2]);
  g.selectAll('circle').data(ev).join('circle').attr('cx',d=>xs(d[0])).attr('cy',d=>ys(d[1])).attr('r',5.6)
    .attr('fill',d=>probColor(d[2])).attr('stroke','#555').attr('stroke-opacity',0.3).attr('stroke-width',0.8);
  frame(b);
  distAxes(xs,b,distTicksB);
  drawAxis('left',ys,b.x,{values:[-1.5,-1,-0.5,0,0.5],size:13});
  drawAxis('right',ys,b.x+b.w,{values:[-1.5,-1,-0.5,0,0.5],size:13});
  label('Mw',990,1808,{rot:-90});
  label('Epicentral distance (km)',1373,2186);
}
// --- (b) non-selected side histogram
{
  const b=P.bNon.side;
  const xs=d3.scaleLinear().domain([0,100]).range([b.x,b.x+b.w]);
  const ys=d3.scaleLinear().domain([-1.5,0.5]).range([b.y+b.h,b.y]);
  frame(b);
  histSide(xs,ys,bNonSideBlue,-1.5,0.1,BLUE);
  histSide(xs,ys,bNonSideRed,-1.5,0.1,RED);
  drawAxis('top',xs,b.y,{values:rng(0,100,10),size:20});
  drawAxis('bottom',xs,b.y+b.h,{values:rng(0,100,10),size:16,labels:rng(0,100,20),rot:true,pad:10});
  sideTicksMw(b,ys,[-1.5,-1,-0.5,0,0.5],mwLabelsB,8);
  label('Number',1811,2208);
}
</script>
</body></html>
